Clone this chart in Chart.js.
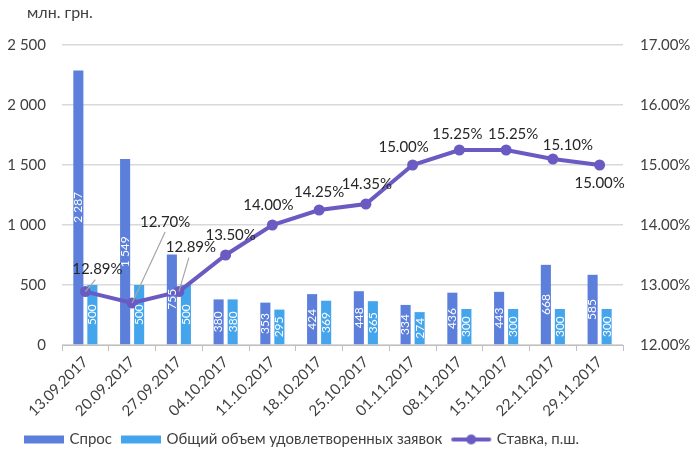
<!DOCTYPE html>
<html>
<head>
<meta charset="utf-8">
<script src="https://cdn.jsdelivr.net/npm/chart.js@4.4.1/dist/chart.umd.min.js"></script>
<style>
  html, body { margin: 0; padding: 0; background: #fff; }
  #wrap { width: 694px; height: 454px; position: relative; }
</style>
</head>
<body>
<div id="wrap"><canvas id="auctionChart"></canvas></div>
<script>
// Data for the chart
const dates = ["13.09.2017", "20.09.2017", "27.09.2017", "04.10.2017", "11.10.2017", "18.10.2017",
  "25.10.2017", "01.11.2017", "08.11.2017", "15.11.2017", "22.11.2017", "29.11.2017"];
const demand = [2287, 1549, 755, 380, 353, 424, 448, 334, 436, 443, 668, 585];
const satisfied = [500, 500, 500, 380, 295, 369, 365, 274, 300, 300, 300, 300];
const rate = [12.89, 12.70, 12.89, 13.50, 14.00, 14.25, 14.35, 15.00, 15.25, 15.25, 15.10, 15.00];
const leftTicks = [0, 500, 1000, 1500, 2000, 2500];
const rightTicks = [12, 13, 14, 15, 16, 17];

const FONT = "Lato, 'Open Sans', sans-serif";
const DEMAND_COLOR = "#5B7FDA";
const SATISFIED_COLOR = "#44A5EC";
const RATE_COLOR = "#6A5BC2";

// where the rate labels sit relative to their point (dx, dy, leader line?)
const rateLabelPos = [
  [12, -22, true], [33, -81, true], [12, -44, true], [5, -20], [-4, -20], [0, -18],
  [1, -20], [-9, -18], [-2, -16], [7, -16], [15, -14], [0, 18]
];

function fmtThousands(v) {
  return String(v).replace(/\B(?=(\d{3})+(?!\d))/g, " ");
}

// legend swatches
function swatch(kind, color) {
  const c = document.createElement("canvas");
  c.width = 42; c.height = 12;
  const g = c.getContext("2d");
  g.fillStyle = color;
  g.strokeStyle = color;
  if (kind === "bar") {
    g.fillRect(1, 2, 40, 8);
  } else {
    g.lineWidth = 4;
    g.lineCap = "round";
    g.beginPath(); g.moveTo(3, 6); g.lineTo(39, 6); g.stroke();
    g.beginPath(); g.arc(21, 6, 5, 0, Math.PI * 2); g.fill();
  }
  return c;
}

const labelsPlugin = {
  id: "labels",
  afterLayout(chart) {
    // nudge the legend to where Excel put it
    const lg = chart.legend;
    lg.left += 11; lg.right += 11;
    lg.top += 3; lg.bottom += 3;
  },
  afterDatasetsDraw(chart) {
    const ctx = chart.ctx;
    // white values inside the bars
    [0, 1].forEach(i => {
      const meta = chart.getDatasetMeta(i);
      const vals = chart.data.datasets[i].data;
      meta.data.forEach((bar, j) => {
        const cy = (bar.y + bar.base) / 2;
        ctx.save();
        ctx.translate(bar.x, cy);
        ctx.rotate(-Math.PI / 2);
        ctx.fillStyle = "#ffffff";
        ctx.font = "12px " + FONT;
        ctx.textAlign = "center";
        ctx.textBaseline = "middle";
        ctx.fillText(fmtThousands(vals[j]), 0, 0);
        ctx.restore();
      });
    });
    // rate labels
    const meta = chart.getDatasetMeta(2);
    meta.data.forEach((pt, j) => {
      const p = rateLabelPos[j];
      const lx = pt.x + p[0], ly = pt.y + p[1];
      ctx.save();
      if (p[2]) {
        ctx.strokeStyle = "#a6a6a6";
        ctx.lineWidth = 1.2;
        ctx.beginPath();
        ctx.moveTo(pt.x, pt.y);
        ctx.lineTo(lx + (p[0] > 20 ? 0 : -2), ly + 10);
        ctx.stroke();
      }
      ctx.fillStyle = "#262626";
      ctx.font = "15px " + FONT;
      ctx.textAlign = "center";
      ctx.textBaseline = "middle";
      ctx.fillText(rate[j].toFixed(2) + "%", lx, ly);
      ctx.restore();
    });
  },
  afterDraw(chart) {
    const ctx = chart.ctx;
    ctx.save();
    ctx.fillStyle = "#404040";
    ctx.font = "16px " + FONT;
    ctx.textBaseline = "middle";
    ctx.fillText("млн. грн.", 27, 13);
    ctx.restore();
  }
};

const config = {
  type: "bar",
  data: {
    labels: dates,
    datasets: [
      {
        label: "Спрос",
        data: demand,
        backgroundColor: DEMAND_COLOR,
        yAxisID: "y",
        order: 2,
        categoryPercentage: 0.6,
        barPercentage: 0.72
      },
      {
        label: "Общий объем удовлетворенных заявок",
        data: satisfied,
        backgroundColor: SATISFIED_COLOR,
        yAxisID: "y",
        order: 2,
        categoryPercentage: 0.6,
        barPercentage: 0.72
      },
      {
        type: "line",
        label: "Ставка, п.ш.",
        data: rate,
        borderColor: RATE_COLOR,
        backgroundColor: RATE_COLOR,
        borderWidth: 4,
        pointRadius: 5.5,
        pointBackgroundColor: RATE_COLOR,
        pointBorderWidth: 0,
        yAxisID: "y1",
        order: 1
      }
    ]
  },
  options: {
    responsive: true,
    maintainAspectRatio: false,
    animation: false,
    layout: { padding: { top: 45, left: 4, right: 0, bottom: 0 } },
    scales: {
      x: {
        grid: { drawOnChartArea: false, drawTicks: true, tickLength: 6, color: "#bfbfbf", offset: true },
        border: { display: true, color: "#bfbfbf" },
        ticks: {
          color: "#404040",
          font: { family: FONT, size: 15 },
          minRotation: 45,
          maxRotation: 45,
          padding: 2
        },
        afterFit(scale) { scale.height = 73; }
      },
      y: {
        position: "left",
        min: leftTicks[0],
        max: leftTicks[leftTicks.length - 1],
        afterBuildTicks(scale) { scale.ticks = leftTicks.map(v => ({ value: v })); },
        grid: { color: "#d9d9d9", lineWidth: 1.5, drawTicks: false },
        border: { display: false },
        ticks: {
          color: "#404040",
          font: { family: FONT, size: 15 },
          padding: 16,
          callback: v => fmtThousands(v)
        },
        afterFit(scale) { scale.width = 58; }
      },
      y1: {
        position: "right",
        min: rightTicks[0],
        max: rightTicks[rightTicks.length - 1],
        afterBuildTicks(scale) { scale.ticks = rightTicks.map(v => ({ value: v })); },
        grid: { drawOnChartArea: false, drawTicks: false },
        border: { display: false },
        ticks: {
          color: "#404040",
          font: { family: FONT, size: 15 },
          padding: 17,
          callback: v => v.toFixed(2) + "%"
        },
        afterFit(scale) { scale.width = 71; }
      }
    },
    plugins: {
      tooltip: { enabled: false },
      legend: {
        position: "bottom",
        align: "start",
        labels: {
          color: "#404040",
          font: { family: FONT, size: 15 },
          usePointStyle: true,
          pointStyleWidth: 36,
          boxHeight: 12,
          padding: 11,
          generateLabels(chart) {
            return chart.data.datasets.map((ds, i) => ({
              text: ds.label,
              datasetIndex: i,
              fontColor: "#404040",
              pointStyle: swatch(i === 2 ? "line" : "bar", i === 2 ? ds.borderColor : ds.backgroundColor),
              hidden: false,
              lineWidth: 0
            }));
          }
        }
      }
    }
  },
  plugins: [labelsPlugin]
};

// Create the chart
window.addEventListener("DOMContentLoaded", () => {
  const auctionChart = new Chart(document.getElementById("auctionChart"), config);
});
</script>
</body>
</html>
